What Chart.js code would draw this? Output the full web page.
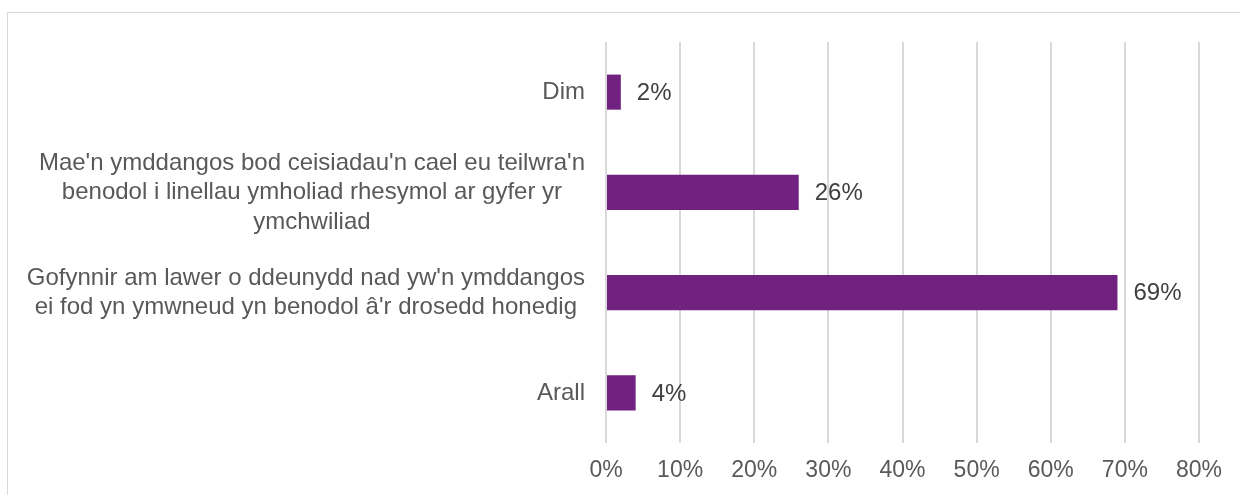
<!DOCTYPE html>
<html>
<head>
<meta charset="utf-8">
<script src="https://cdn.jsdelivr.net/npm/chart.js@4/dist/chart.umd.min.js"></script>
<style>
  html, body { margin: 0; padding: 0; background: #fff; }
  #wrap { position: relative; width: 1240px; height: 495px; }
  #frame { position: absolute; left: 7px; top: 12px; width: 1300px; height: 600px;
    border-left: 1px solid #d9d9d9; border-top: 1px solid #d9d9d9; }
  canvas { position: absolute; left: 0; top: 0; }
</style>
</head>
<body>
<div id="wrap">
  <div id="frame"></div>
  <canvas id="myChart" width="1240" height="495"></canvas>
</div>
<script>
const categories = [
  ['Dim'],
  ["Mae'n ymddangos bod ceisiadau'n cael eu teilwra'n", 'benodol i linellau ymholiad rhesymol ar gyfer yr', 'ymchwiliad'],
  ["Gofynnir am lawer o ddeunydd nad yw'n ymddangos", "ei fod yn ymwneud yn benodol â'r drosedd honedig"],
  ['Arall']
]
const values = [2, 26, 69, 4]
const tickLabels = ['0%', '10%', '20%', '30%', '40%', '50%', '60%', '70%', '80%']

const FONT = "'Liberation Sans', Arial, sans-serif"

// y labels: block right aligned, lines centred inside the block (like Excel)
const yLabels = {
  id: 'yLabels',
  afterDraw(chart) {
    const ctx = chart.ctx,
      y = chart.scales.y,
      right = chart.chartArea.left - 21
    ctx.save()
    ctx.font = '24px ' + FONT
    ctx.fillStyle = '#595959'
    ctx.textAlign = 'center'
    ctx.textBaseline = 'middle'
    for (let i = 0; i < categories.length; i++) {
      const lines = categories[i]
      let w = 0
      lines.forEach(l => { w = Math.max(w, ctx.measureText(l).width) })
      const cy = y.getPixelForValue(i),
        lh = 29.5,
        y0 = cy - (lines.length - 1) * lh / 2
      lines.forEach((l, j) => ctx.fillText(l, right - w / 2, y0 + j * lh))
    }
    ctx.restore()
  }
}

const barLabels = {
  id: 'barLabels',
  afterDatasetsDraw(chart) {
    const ctx = chart.ctx,
      meta = chart.getDatasetMeta(0)
    ctx.save()
    ctx.font = '24px ' + FONT
    ctx.fillStyle = '#404040'
    ctx.textAlign = 'left'
    ctx.textBaseline = 'middle'
    meta.data.forEach((bar, i) => {
      ctx.fillText(values[i] + '%', bar.x + 16, bar.y + 1)
    })
    ctx.restore()
  }
}

const ctx = document.getElementById('myChart').getContext('2d')
const chart = new Chart(ctx, {
  type: 'bar',
  data: {
    labels: categories.map(c => c.join(' ')),
    datasets: [
      {
        data: values,
        backgroundColor: '#71217f',
        barPercentage: 0.35,
        categoryPercentage: 1
      }
    ]
  },
  options: {
    indexAxis: 'y',
    responsive: false,
    animation: false,
    layout: { padding: { top: 42, right: 41, bottom: 0, left: 0 } },
    plugins: { legend: { display: false }, tooltip: { enabled: false } },
    scales: {
      x: {
        min: 0,
        max: 80,
        ticks: {
          stepSize: 10,
          padding: 14,
          color: '#595959',
          font: { family: FONT, size: 23 },
          maxRotation: 0,
          callback: (v, i) => tickLabels[i]
        },
        grid: { color: '#d9d9d9', lineWidth: 2, drawTicks: false },
        border: { display: false },
        afterFit(scale) { scale.height = 52 }
      },
      y: {
        ticks: { display: false },
        grid: { display: false },
        border: { display: false },
        afterFit(scale) { scale.width = 606 }
      }
    }
  },
  plugins: [yLabels, barLabels]
})
</script>
</body>
</html>
